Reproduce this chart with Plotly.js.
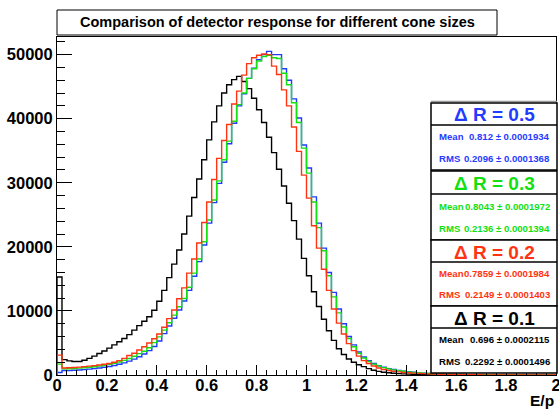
<!DOCTYPE html>
<html><head><meta charset="utf-8">
<script src="https://cdn.plot.ly/plotly-3.0.1.min.js"></script>
<style>html,body{margin:0;padding:0;background:#fff;} #chart{width:559px;height:409px;}</style>
</head><body><div id="chart"></div>
<script>
// Histogram binning: 100 bins from 0 to 2 (E/p)
const xMin = 0, xMax = 2, nBins = 100;

// Bin contents
const dR01 = [15300,2400,2200,2100,2100,2300,2600,2950,3350,3750,
  4200,4700,5200,5700,6300,7000,7700,8400,9100,10100,
  11500,13200,15200,17300,19500,22000,24800,27700,30600,33600,
  36700,39500,42000,44000,45300,46100,46600,45800,44700,43200,
  41400,39400,37100,34700,32100,29500,26800,24100,21200,18200,
  15500,13000,10700,8700,6900,5400,4100,3200,2500,2000,
  1600,1300,1000,750,560,430,340,270,210,170,
  140,110,90,70,60,50,40,35,30,25,
  20,18,15,12,10,9,8,7,6,5,
  4,4,3,3,2,2,1,1,1,1];
const dR02 = [3100,1100,1130,1180,1230,1300,1380,1470,1570,1680,
  1800,1980,2240,2600,3050,3400,3900,4400,5000,5650,
  6400,7450,8800,10150,11900,13600,15900,18100,20600,23800,
  27000,30500,33800,36600,39100,42300,44300,46800,48600,49500,
  49900,50100,50000,48200,46900,44500,42000,38700,34900,31200,
  27600,23300,19800,16500,13200,10300,8100,6400,4900,3800,
  2950,2250,1800,1400,1100,850,700,580,480,400,
  340,290,250,210,180,150,120,100,85,70,
  60,50,40,35,30,25,20,18,15,12,
  10,8,7,6,5,4,3,2,2,1];
const dR03 = [1700,950,980,1020,1070,1130,1200,1290,1400,1520,
  1660,1830,2030,2280,2580,2930,3330,3700,4250,5050,
  5950,7000,8150,9350,10650,11950,13700,15900,18100,20800,
  24200,27300,30300,33600,36500,39600,42200,44000,46300,47800,
  49000,49700,49900,49500,49400,47100,45300,42500,39400,35400,
  31500,27000,23000,19400,15500,12200,9700,7500,5700,4400,
  3400,2650,2100,1700,1400,1150,950,800,680,580,
  480,400,340,290,240,200,170,140,120,100,
  85,70,60,50,40,35,30,25,20,17,
  14,12,10,8,6,5,4,3,2,1];
const dR05 = [400,700,690,730,780,840,910,990,1090,1200,
  1330,1490,1680,1900,2170,2480,2850,3280,3800,4450,
  5300,6450,7650,8850,10150,11550,13200,15400,17700,20300,
  23700,26900,29900,33200,36100,39300,42000,43900,46300,47900,
  49200,50000,50500,50000,50000,47800,46000,43100,40100,35900,
  32300,27800,23700,19800,16000,12900,10300,8000,6000,4700,
  3600,2800,2250,1800,1450,1200,1000,850,700,600,
  500,420,350,300,250,210,180,150,125,105,
  90,75,62,52,43,36,30,25,20,17,
  14,11,9,7,5,4,3,2,2,1];

const coneLabels = ['\u0394 R = 0.5','\u0394 R = 0.3','\u0394 R = 0.2','\u0394 R = 0.1'];
const meanVals = ['0.812 \u00b1 0.0001934','0.8043 \u00b1 0.0001972','0.7859 \u00b1 0.0001984','0.696 \u00b1 0.0002115'];
const rmsVals = ['0.2096 \u00b1 0.0001368','0.2136 \u00b1 0.0001394','0.2149 \u00b1 0.0001403','0.2292 \u00b1 0.0001496'];

const cBlue = '#1f3cff', cGreen = '#12e012', cRed = '#ff3412', cBlack = '#000000';
const boxColors = [cBlue, cGreen, cRed, cBlack];

const binW = (xMax - xMin) / nBins;
const edges = [];
for (let i = 0; i <= nBins; i++) edges.push(+(xMin + i * binW).toFixed(4));

function histTrace(vals, color) {
  const x = [xMin].concat(edges, [xMax]);
  const y = [0].concat(vals, [vals[vals.length - 1], 0]);
  return {type: 'scatter', mode: 'lines', x: x, y: y, line: {shape: 'hv', color: color, width: 1.4}, hoverinfo: 'skip'};
}

const traces = [histTrace(dR01, cBlack), histTrace(dR05, cBlue), histTrace(dR03, cGreen), histTrace(dR02, cRed)];

// pixel -> paper helpers (plot area: x 57..556, y 37..375)
const L = 57, R = 556, T = 37, B = 375;
const PX = p => (p - L) / (R - L);
const PY = p => (B - p) / (B - T);

const FONT = 'Liberation Sans, Arial, Helvetica, sans-serif';
const shapes = [];
const annotations = [];

// title box
shapes.push({type: 'rect', xref: 'paper', yref: 'paper', x0: PX(57), x1: PX(497), y0: PY(35), y1: PY(10), line: {color: '#000', width: 1}, fillcolor: '#fff', layer: 'above'});
annotations.push({xref: 'paper', yref: 'paper', x: PX(277), y: PY(22.5), text: 'Comparison of detector response for different cone sizes', showarrow: false, xanchor: 'center', yanchor: 'middle', font: {family: FONT, size: 14.5, weight: 700, color: '#000'}});

// stats boxes
const boxRows = [[103, 125, 170], [171, 194, 240], [240, 262, 306], [306, 328, 373]];
const bx0 = 431, bx1 = 557;
const SF = 9.6;
shapes.push({type: 'line', xref: 'paper', yref: 'paper', x0: PX(bx0), x1: PX(bx1), y0: PY(101.5), y1: PY(101.5), line: {color: '#999', width: 1.5}, layer: 'above'});
boxRows.forEach((r, k) => {
  shapes.push({type: 'rect', xref: 'paper', yref: 'paper', x0: PX(bx0), x1: PX(bx1), y0: PY(r[2]), y1: PY(r[0]), line: {color: '#000', width: 1.5}, fillcolor: '#fff', layer: 'above'});
  shapes.push({type: 'line', xref: 'paper', yref: 'paper', x0: PX(bx0), x1: PX(bx1), y0: PY(r[1]), y1: PY(r[1]), line: {color: '#000', width: 1.5}, layer: 'above'});
  const col = boxColors[k];
  annotations.push({xref: 'paper', yref: 'paper', x: PX(494), y: PY((r[0] + r[1]) / 2 + 1), text: coneLabels[k], showarrow: false, xanchor: 'center', yanchor: 'middle', font: {family: FONT, size: 19, weight: 700, color: col}});
  const yMean = r[1] + (r[2] - r[1]) * 0.25 + 0.5;
  const yRms = r[1] + (r[2] - r[1]) * 0.74;
  annotations.push({xref: 'paper', yref: 'paper', x: PX(437), y: PY(yMean), text: 'Mean', showarrow: false, xanchor: 'left', yanchor: 'middle', font: {family: FONT, size: SF, weight: 700, color: col}});
  annotations.push({xref: 'paper', yref: 'paper', x: PX(552), y: PY(yMean), text: meanVals[k], showarrow: false, xanchor: 'right', yanchor: 'middle', font: {family: FONT, size: SF, weight: 700, color: col}});
  annotations.push({xref: 'paper', yref: 'paper', x: PX(437), y: PY(yRms), text: 'RMS', showarrow: false, xanchor: 'left', yanchor: 'middle', font: {family: FONT, size: SF, weight: 700, color: col}});
  annotations.push({xref: 'paper', yref: 'paper', x: PX(552), y: PY(yRms), text: rmsVals[k], showarrow: false, xanchor: 'right', yanchor: 'middle', font: {family: FONT, size: SF, weight: 700, color: col}});
});

// x axis title
annotations.push({xref: 'paper', yref: 'paper', x: PX(556), y: PY(400), text: 'E/p', showarrow: false, xanchor: 'right', yanchor: 'middle', font: {family: FONT, size: 15.5, weight: 700, color: '#000'}});

const layout = {
  width: 559, height: 409,
  margin: {l: L, r: 559 - R, t: T, b: 409 - B, pad: 0},
  paper_bgcolor: '#fff', plot_bgcolor: '#fff', showlegend: false,
  font: {family: FONT, color: '#000'},
  xaxis: {range: [xMin, xMax + 0.0001], tick0: 0, dtick: 0.2, ticks: 'inside', ticklen: 10, tickwidth: 1, tickcolor: '#000',
    showline: true, linecolor: '#000', linewidth: 1, mirror: true, showgrid: false, zeroline: false,
    ticklabeloverflow: 'allow', ticklabelstandoff: -5,
    tickfont: {family: FONT, size: 16.5, weight: 700, color: '#000'},
    minor: {dtick: 0.04, ticks: 'inside', ticklen: 5, tickwidth: 1, tickcolor: '#000', showgrid: false}},
  yaxis: {range: [0, 52750], tick0: 0, dtick: 10000, tickformat: 'd', ticks: 'inside', ticklen: 15, tickwidth: 1, tickcolor: '#000',
    showline: true, linecolor: '#000', linewidth: 1, mirror: true, showgrid: false, zeroline: false,
    tickfont: {family: FONT, size: 16.5, weight: 700, color: '#000'},
    minor: {dtick: 2000, ticks: 'inside', ticklen: 7.5, tickwidth: 1, tickcolor: '#000', showgrid: false}},
  shapes: shapes,
  annotations: annotations
};

Plotly.newPlot('chart', traces, layout, {staticPlot: true, displayModeBar: false});
</script>
</body></html>
